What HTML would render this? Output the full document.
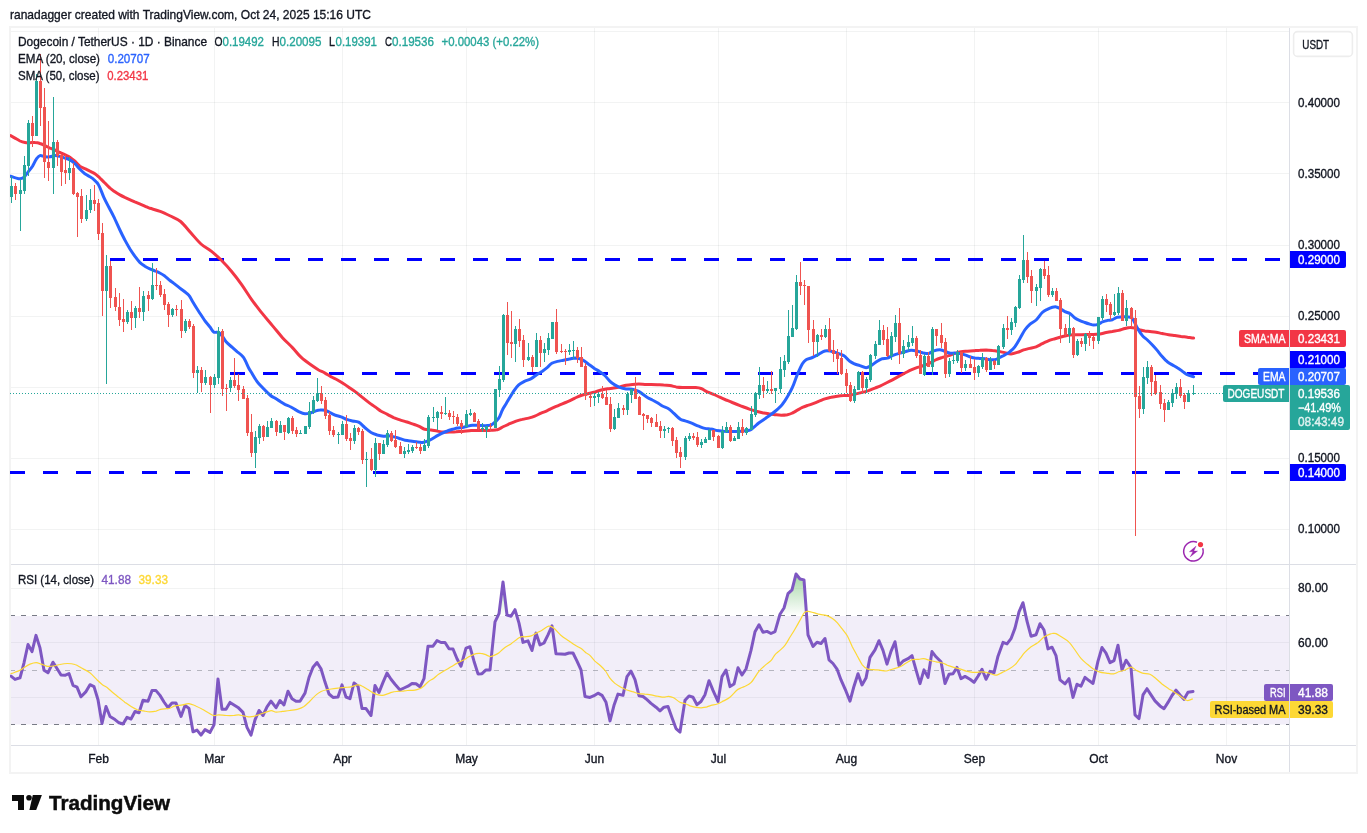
<!DOCTYPE html>
<html lang="en">
<head>
<meta charset="utf-8">
<title>DOGEUSDT chart</title>
<style>
html,body{margin:0;padding:0;background:#fff;}
body{width:1367px;height:833px;overflow:hidden;position:relative;font-family:"Liberation Sans", "DejaVu Sans", sans-serif;}
svg text{white-space:pre;}
</style>
</head>
<body>
<svg width="1367" height="833" viewBox="0 0 1367 833" font-family='"Liberation Sans", "DejaVu Sans", sans-serif' style="position:absolute;left:0;top:0;display:block">
<defs>
<clipPath id="cm"><rect x="10" y="27" width="1279" height="537"/></clipPath>
<clipPath id="cr"><rect x="10" y="565" width="1279" height="180"/></clipPath>
<linearGradient id="gob" gradientUnits="userSpaceOnUse" x1="0" y1="534" x2="0" y2="616"><stop offset="0" stop-color="#4caf50" stop-opacity="1"/><stop offset="1" stop-color="#4caf50" stop-opacity="0"/></linearGradient>
<linearGradient id="gos" gradientUnits="userSpaceOnUse" x1="0" y1="724" x2="0" y2="806"><stop offset="0" stop-color="#ff5252" stop-opacity="0"/><stop offset="1" stop-color="#ff5252" stop-opacity="1"/></linearGradient>
</defs>
<rect x="0" y="0" width="1367" height="833" fill="#ffffff"/>
<g shape-rendering="crispEdges" fill="#2a2e39" fill-opacity="0.06">
<rect x="98" y="27" width="1" height="718"/>
<rect x="214" y="27" width="1" height="718"/>
<rect x="342" y="27" width="1" height="718"/>
<rect x="466" y="27" width="1" height="718"/>
<rect x="594" y="27" width="1" height="718"/>
<rect x="718" y="27" width="1" height="718"/>
<rect x="846" y="27" width="1" height="718"/>
<rect x="974" y="27" width="1" height="718"/>
<rect x="1098" y="27" width="1" height="718"/>
<rect x="1226" y="27" width="1" height="718"/>
<rect x="10" y="31" width="1279" height="1"/>
<rect x="10" y="102" width="1279" height="1"/>
<rect x="10" y="173" width="1279" height="1"/>
<rect x="10" y="245" width="1279" height="1"/>
<rect x="10" y="316" width="1279" height="1"/>
<rect x="10" y="387" width="1279" height="1"/>
<rect x="10" y="458" width="1279" height="1"/>
<rect x="10" y="529" width="1279" height="1"/>
<rect x="10" y="588" width="1279" height="1"/>
<rect x="10" y="642" width="1279" height="1"/>
<rect x="10" y="697" width="1279" height="1"/>
</g>
<rect x="10" y="616" width="1279" height="108.5" fill="#7e57c2" fill-opacity="0.1"/>
<g shape-rendering="crispEdges">
<line x1="10" y1="615.5" x2="1289" y2="615.5" stroke="#787b86" stroke-width="1" stroke-dasharray="5 6"/>
<line x1="10" y1="670.5" x2="1289" y2="670.5" stroke="#787b86" stroke-opacity="0.5" stroke-width="1" stroke-dasharray="5 6"/>
<line x1="10" y1="724.5" x2="1289" y2="724.5" stroke="#787b86" stroke-width="1" stroke-dasharray="5 6"/>
</g>
<g shape-rendering="crispEdges" fill="#dcdee5">
<rect x="1289" y="28" width="1" height="744"/>
<rect x="11" y="564" width="1345" height="1"/>
<rect x="11" y="745" width="1345" height="1"/>
</g>
<g shape-rendering="crispEdges" fill="#f3f3f3">
<rect x="9" y="26" width="1349" height="2"/>
<rect x="9" y="772" width="1349" height="2"/>
<rect x="9" y="26" width="2" height="748"/>
<rect x="1356" y="26" width="2" height="748"/>
</g>
<g clip-path="url(#cm)">
<line x1="110" y1="259.5" x2="1290" y2="259.5" stroke="#0000ff" stroke-width="3" stroke-dasharray="15 18" shape-rendering="crispEdges"/>
<line x1="230" y1="373.5" x2="1290" y2="373.5" stroke="#0000ff" stroke-width="3" stroke-dasharray="15 18" shape-rendering="crispEdges"/>
<line x1="10" y1="472.5" x2="1290" y2="472.5" stroke="#0000ff" stroke-width="3" stroke-dasharray="15 18" shape-rendering="crispEdges"/>
<path d="M10.6,135.6 C11.3,136.0 13.4,137.2 15.0,138.1 C16.5,139.0 18.3,140.2 20.0,141.0 C21.6,141.7 23.3,142.2 25.0,142.5 C26.6,142.8 28.3,142.7 30.0,142.7 C31.6,142.7 33.3,142.3 35.0,142.5 C36.6,142.6 38.3,142.9 40.0,143.5 C41.6,144.0 43.3,144.8 44.9,145.6 C46.6,146.4 48.3,147.3 49.9,148.1 C51.6,148.8 53.3,149.2 54.9,150.0 C56.6,150.7 58.3,151.7 59.9,152.4 C61.6,153.2 63.3,153.9 64.9,154.7 C66.6,155.5 68.2,156.1 69.9,157.2 C71.6,158.3 73.2,159.7 74.9,161.2 C76.6,162.7 78.2,164.9 79.9,166.2 C81.6,167.4 83.2,167.8 84.9,168.7 C86.6,169.5 88.2,170.3 89.9,171.2 C91.6,172.0 93.2,172.5 94.9,173.7 C96.5,174.8 98.2,176.5 99.9,178.0 C101.5,179.6 103.2,181.4 104.9,183.0 C106.5,184.7 108.2,186.6 109.9,188.0 C111.5,189.5 113.2,190.6 114.9,191.8 C116.5,192.9 118.2,194.0 119.9,194.9 C121.5,195.8 122.3,196.2 124.8,197.4 C127.3,198.5 131.5,200.3 134.8,201.8 C138.2,203.2 142.3,205.0 144.8,206.1 C147.3,207.2 147.4,207.4 150.0,208.3 C152.6,209.1 156.8,210.0 160.2,211.3 C163.6,212.6 167.0,214.3 170.4,216.0 C173.8,217.7 177.2,218.7 180.6,221.5 C184.0,224.3 187.4,229.0 190.8,232.8 C194.2,236.5 197.6,240.9 201.0,244.0 C204.4,247.0 207.8,248.4 211.2,251.1 C214.6,253.8 218.0,256.9 221.4,260.3 C224.8,263.7 228.2,267.4 231.6,271.5 C235.0,275.6 238.4,280.0 241.8,284.8 C245.2,289.6 248.6,295.3 252.0,300.1 C255.4,304.9 258.8,309.1 262.2,313.4 C265.6,317.6 269.0,321.5 272.4,325.6 C275.9,329.7 279.3,334.1 282.7,337.9 C286.1,341.6 289.8,344.8 292.9,348.1 C295.9,351.3 297.9,354.3 301.0,357.2 C304.2,360.2 308.9,363.5 311.9,365.6 C314.8,367.7 316.5,368.7 318.7,370.0 C320.9,371.2 322.9,371.9 325.0,373.1 C327.0,374.2 329.1,375.7 331.2,376.8 C333.3,378.0 335.4,378.8 337.5,380.0 C339.5,381.1 341.6,382.3 343.7,383.7 C345.8,385.0 347.9,386.6 349.9,388.1 C352.0,389.5 354.1,390.9 356.2,392.4 C358.3,394.0 360.3,395.8 362.4,397.4 C364.5,399.1 366.6,400.9 368.7,402.4 C370.7,404.0 372.8,405.3 374.9,406.8 C377.0,408.2 379.1,409.9 381.1,411.2 C383.2,412.4 385.3,413.2 387.4,414.3 C389.5,415.4 391.6,416.7 393.6,417.7 C395.7,418.6 397.8,419.2 399.9,419.9 C402.0,420.6 404.0,421.1 406.1,421.8 C408.2,422.4 410.3,423.2 412.4,423.9 C414.4,424.6 416.5,425.2 418.6,426.1 C420.7,427.0 422.8,428.6 424.8,429.3 C426.9,429.9 429.0,429.8 431.1,430.1 C433.2,430.4 435.2,430.8 437.3,431.1 C439.4,431.5 441.5,432.0 443.6,432.1 C445.7,432.3 447.7,432.2 449.8,432.1 C451.9,432.1 454.0,431.9 456.1,431.8 C458.1,431.6 459.8,431.6 462.3,431.4 C464.8,431.2 468.5,430.7 471.2,430.5 C473.9,430.4 476.4,430.6 478.6,430.6 C480.9,430.6 482.8,430.6 484.9,430.6 C487.0,430.5 489.0,430.5 491.1,430.3 C493.2,430.2 495.3,430.4 497.4,429.7 C499.4,429.1 501.5,427.5 503.6,426.5 C505.7,425.5 507.8,424.6 509.8,423.7 C511.9,422.8 514.0,422.0 516.1,421.2 C518.2,420.5 520.2,419.9 522.3,419.4 C524.4,418.8 526.5,418.6 528.6,418.1 C530.7,417.6 532.7,417.1 534.8,416.2 C536.9,415.4 539.0,414.0 541.1,413.1 C543.1,412.2 545.0,411.7 547.3,410.6 C549.6,409.6 551.3,408.5 555.0,406.9 C558.8,405.2 566.5,402.2 570.0,400.6 C573.5,399.0 574.2,398.4 576.2,397.5 C578.3,396.5 580.4,395.6 582.5,395.0 C584.6,394.3 586.6,394.0 588.7,393.5 C590.8,393.0 592.9,392.4 595.0,391.9 C597.0,391.3 599.1,390.5 601.2,390.0 C603.3,389.5 605.4,389.0 607.5,388.7 C609.5,388.4 611.6,388.4 613.7,388.1 C615.8,387.8 617.9,387.3 619.9,386.9 C622.0,386.4 624.1,385.7 626.2,385.2 C628.3,384.8 630.3,384.6 632.4,384.4 C634.5,384.2 636.6,384.1 638.7,384.1 C640.7,384.1 642.8,384.3 644.9,384.4 C647.0,384.4 649.1,384.6 651.1,384.6 C653.2,384.7 655.3,384.7 657.4,384.7 C659.5,384.8 661.6,384.8 663.6,385.0 C665.7,385.1 667.8,385.3 669.9,385.6 C672.0,385.9 674.0,386.5 676.1,386.9 C678.2,387.2 680.3,387.4 682.4,387.5 C684.4,387.6 686.5,387.5 688.6,387.5 C690.7,387.5 692.8,387.3 694.8,387.5 C696.9,387.7 699.0,387.8 701.1,388.5 C703.2,389.2 705.2,390.9 707.3,391.9 C709.4,392.8 711.5,393.5 713.6,394.4 C715.7,395.2 717.7,396.3 719.8,397.2 C721.9,398.2 724.0,399.1 726.1,400.0 C728.1,400.8 730.0,401.5 732.3,402.5 C734.6,403.4 738.1,404.8 740.0,405.6 C741.9,406.4 742.1,406.4 743.7,407.0 C745.4,407.7 747.9,408.6 750.0,409.3 C752.0,410.0 754.1,410.6 756.2,411.2 C758.3,411.7 760.4,412.2 762.5,412.7 C764.5,413.1 766.6,413.3 768.7,413.7 C770.8,414.0 772.9,414.4 774.9,414.7 C777.0,414.9 779.1,415.2 781.2,415.2 C783.3,415.2 785.5,415.0 787.4,414.7 C789.3,414.3 790.8,413.8 792.4,413.0 C794.1,412.3 795.7,411.1 797.4,410.2 C799.1,409.2 800.7,408.2 802.4,407.4 C804.1,406.7 805.7,406.1 807.4,405.5 C809.1,405.0 810.5,404.6 812.4,403.9 C814.3,403.2 816.6,402.3 818.6,401.4 C820.7,400.6 822.8,399.6 824.9,398.9 C827.0,398.2 829.0,397.6 831.1,397.2 C833.2,396.7 835.3,396.5 837.4,396.2 C839.4,395.9 841.5,395.7 843.6,395.6 C845.7,395.4 847.8,395.5 849.8,395.2 C851.9,394.9 854.0,394.4 856.1,393.9 C858.2,393.5 860.2,393.0 862.3,392.4 C864.4,391.9 866.5,391.3 868.6,390.6 C870.7,389.8 872.9,388.8 874.8,388.1 C876.7,387.3 878.1,387.0 880.0,386.1 C881.9,385.3 884.2,384.1 886.2,383.0 C888.3,382.0 890.4,381.0 892.5,379.9 C894.6,378.8 896.6,377.5 898.7,376.4 C900.8,375.3 902.9,374.1 905.0,373.0 C907.0,372.0 909.1,370.8 911.2,369.9 C913.3,369.0 915.4,368.1 917.5,367.4 C919.5,366.7 921.6,366.3 923.7,365.5 C925.8,364.8 927.9,364.0 929.9,363.0 C932.0,362.1 934.1,360.6 936.2,359.7 C938.3,358.7 940.3,358.1 942.4,357.4 C944.5,356.7 946.6,356.2 948.7,355.6 C950.7,354.9 952.8,354.1 954.9,353.4 C957.0,352.8 959.1,352.2 961.1,351.8 C963.2,351.4 965.3,351.4 967.4,351.2 C969.5,351.0 971.6,351.0 973.6,350.8 C975.7,350.6 977.8,350.3 979.9,350.2 C982.0,350.0 984.0,349.9 986.1,349.9 C988.2,350.0 990.3,350.3 992.4,350.6 C994.4,350.8 996.5,351.1 998.6,351.4 C1000.7,351.8 1002.8,352.3 1004.8,352.7 C1006.9,353.1 1009.0,354.0 1011.1,353.9 C1013.2,353.9 1015.2,353.1 1017.3,352.4 C1019.4,351.8 1021.5,350.6 1023.6,349.9 C1025.7,349.3 1027.7,349.0 1029.8,348.4 C1031.9,347.9 1034.0,347.6 1036.1,346.8 C1038.1,346.0 1040.0,344.8 1042.3,343.7 C1044.6,342.6 1047.9,341.0 1050.0,340.2 C1052.2,339.4 1053.3,339.2 1055.0,338.7 C1056.7,338.2 1058.3,337.7 1060.0,337.2 C1061.7,336.8 1063.3,336.3 1065.0,336.0 C1066.6,335.6 1068.3,335.2 1070.0,335.0 C1071.6,334.8 1073.1,334.8 1075.0,334.7 C1076.8,334.7 1079.1,334.7 1081.2,334.7 C1083.3,334.7 1085.4,334.7 1087.5,334.6 C1089.5,334.5 1091.6,334.5 1093.7,334.4 C1095.8,334.2 1097.9,334.3 1099.9,334.0 C1102.0,333.7 1104.1,332.9 1106.2,332.5 C1108.3,332.1 1110.3,331.8 1112.4,331.5 C1114.5,331.1 1116.6,330.9 1118.7,330.4 C1120.7,329.9 1123.0,329.0 1124.9,328.5 C1126.8,328.0 1128.2,327.5 1129.9,327.5 C1131.6,327.4 1133.2,327.7 1134.9,328.1 C1136.6,328.5 1138.2,329.5 1139.9,330.0 C1141.6,330.5 1143.2,330.7 1144.9,331.0 C1146.5,331.2 1148.0,331.3 1149.9,331.5 C1151.7,331.7 1154.0,331.9 1156.1,332.2 C1158.2,332.6 1160.3,333.1 1162.4,333.5 C1164.4,333.9 1166.5,334.4 1168.6,334.7 C1170.7,335.1 1172.8,335.3 1174.8,335.6 C1176.9,335.9 1179.0,336.2 1181.1,336.5 C1183.2,336.7 1185.2,337.0 1187.3,337.2 C1189.4,337.5 1192.5,338.0 1193.6,338.1" fill="none" stroke="#f23645" stroke-width="3" stroke-linejoin="round" stroke-linecap="round"/>
<path d="M10.6,176.2 C12.0,176.6 16.5,178.5 18.7,178.7 C20.9,178.9 22.1,178.7 23.7,177.4 C25.4,176.2 27.3,173.0 28.7,171.2 C30.2,169.3 31.2,168.2 32.5,166.2 C33.7,164.2 35.0,161.1 36.2,159.3 C37.5,157.5 38.5,156.0 40.0,155.6 C41.4,155.2 43.3,156.6 44.9,156.8 C46.6,157.0 48.3,157.0 49.9,156.8 C51.6,156.6 53.3,155.6 54.9,155.6 C56.6,155.5 58.3,156.0 59.9,156.4 C61.6,156.9 63.3,157.5 64.9,158.1 C66.6,158.6 68.2,159.0 69.9,159.9 C71.6,160.9 73.2,162.1 74.9,163.7 C76.6,165.2 78.2,167.6 79.9,169.3 C81.6,171.0 83.2,172.4 84.9,173.7 C86.6,174.9 88.4,175.9 89.9,176.8 C91.3,177.7 92.2,177.9 93.6,179.3 C95.1,180.6 97.0,182.0 98.6,184.9 C100.3,187.8 102.0,193.2 103.6,196.8 C105.3,200.5 106.9,203.5 108.6,206.8 C110.3,210.1 111.7,212.5 113.6,216.4 C115.5,220.2 118.0,226.0 119.9,230.0 C121.7,233.9 123.2,236.8 124.8,239.9 C126.5,243.1 128.2,246.0 129.8,248.7 C131.5,251.4 133.2,253.9 134.8,256.2 C136.5,258.5 138.2,260.7 139.8,262.4 C141.5,264.1 143.2,265.1 144.8,266.2 C146.5,267.2 148.1,268.1 149.8,268.9 C151.5,269.7 153.1,270.1 154.8,270.8 C156.5,271.5 158.1,272.1 159.8,273.0 C161.5,273.9 163.1,274.9 164.8,276.1 C166.5,277.4 168.6,279.4 170.0,280.5 C171.5,281.7 172.0,281.8 173.6,283.1 C175.3,284.4 177.4,286.1 179.9,288.1 C182.4,290.1 186.5,292.8 188.6,295.0 C190.7,297.2 190.7,298.5 192.4,301.2 C194.0,303.9 196.5,308.0 198.6,311.2 C200.7,314.4 203.0,318.0 204.8,320.6 C206.7,323.2 208.4,324.9 209.8,326.8 C211.3,328.7 212.1,331.1 213.6,332.0 C215.0,333.0 217.1,331.7 218.6,332.4 C220.0,333.1 221.1,334.6 222.3,336.2 C223.6,337.7 224.4,339.9 226.1,341.8 C227.7,343.7 230.4,345.7 232.3,347.4 C234.2,349.1 235.4,350.1 237.3,351.8 C239.2,353.4 241.7,354.7 243.5,357.4 C245.4,360.1 247.4,365.6 248.7,368.0 C249.9,370.4 249.8,369.9 251.0,371.8 C252.3,373.8 254.5,377.8 256.0,380.0 C257.5,382.1 257.7,382.5 260.0,385.0 C262.4,387.5 267.5,392.8 270.0,395.0 C272.4,397.2 273.3,397.1 275.0,398.1 C276.6,399.2 278.3,400.2 279.9,401.2 C281.6,402.3 283.3,403.5 284.9,404.4 C286.6,405.2 288.3,405.7 289.9,406.5 C291.6,407.3 293.3,408.4 294.9,409.4 C296.6,410.3 298.3,411.5 299.9,412.2 C301.6,413.0 303.2,413.6 304.9,413.7 C306.6,413.9 308.2,413.5 309.9,413.1 C311.6,412.7 313.2,411.7 314.9,411.2 C316.6,410.7 318.2,410.1 319.9,410.0 C321.6,409.8 323.2,409.8 324.9,410.2 C326.6,410.6 328.2,411.7 329.9,412.5 C331.5,413.3 333.0,414.2 334.9,415.0 C336.7,415.7 339.0,416.1 341.1,416.8 C343.2,417.6 345.5,419.0 347.4,419.7 C349.2,420.4 350.5,420.6 352.4,421.0 C354.2,421.4 356.5,421.1 358.6,422.2 C360.7,423.3 362.8,425.8 364.8,427.5 C366.9,429.2 369.0,431.2 371.1,432.5 C373.2,433.7 375.2,434.3 377.3,435.0 C379.4,435.6 381.5,436.0 383.6,436.2 C385.6,436.4 387.7,435.7 389.8,435.9 C391.9,436.2 394.2,436.9 396.0,437.4 C397.9,437.9 399.5,438.5 401.0,438.9 C402.5,439.4 403.5,439.9 405.0,440.2 C406.5,440.5 408.1,440.7 410.0,440.9 C411.8,441.2 414.1,441.6 416.2,441.8 C418.3,442.1 420.6,442.6 422.5,442.4 C424.3,442.3 425.8,441.8 427.4,441.2 C429.1,440.6 430.8,439.6 432.4,438.7 C434.1,437.8 435.8,436.5 437.4,435.6 C439.1,434.6 440.8,433.9 442.4,433.1 C444.1,432.3 445.8,431.6 447.4,431.0 C449.1,430.3 450.8,429.8 452.4,429.3 C454.1,428.9 455.7,428.4 457.4,428.1 C459.1,427.8 460.7,427.8 462.4,427.5 C464.1,427.2 465.7,426.6 467.4,426.2 C469.1,425.8 470.7,425.4 472.4,425.2 C474.1,425.1 475.7,425.3 477.4,425.3 C479.0,425.4 480.7,425.6 482.4,425.6 C484.0,425.6 485.7,425.8 487.4,425.6 C489.0,425.4 490.5,425.5 492.4,424.3 C494.2,423.1 496.9,420.8 498.6,418.4 C500.3,416.0 501.1,412.4 502.4,410.0 C503.6,407.5 504.2,406.9 506.1,403.7 C508.0,400.6 511.6,394.3 513.7,391.1 C515.8,388.0 516.8,386.6 518.7,384.9 C520.6,383.2 522.9,382.2 524.9,381.1 C527.0,380.1 529.1,379.8 531.2,378.6 C533.3,377.5 535.5,375.5 537.4,374.3 C539.3,373.0 540.7,372.3 542.4,371.2 C544.1,370.0 545.8,368.7 547.4,367.4 C549.0,366.1 550.1,364.3 551.8,363.3 C553.4,362.3 555.4,361.9 557.4,361.4 C559.4,360.9 561.6,360.6 563.6,360.2 C565.7,359.8 568.0,359.3 569.9,358.9 C571.7,358.6 573.2,358.1 574.9,358.0 C576.5,358.0 578.4,358.3 579.9,358.7 C581.3,359.1 582.2,359.6 583.6,360.5 C585.1,361.5 586.7,362.9 588.6,364.3 C590.5,365.6 593.0,367.4 594.8,368.7 C596.7,369.9 598.2,370.6 599.8,371.8 C601.5,372.9 603.2,374.0 604.8,375.5 C606.5,377.1 608.2,379.6 609.8,381.1 C611.5,382.7 613.2,383.8 614.8,384.9 C616.5,385.9 617.9,386.7 619.8,387.4 C621.7,388.1 624.0,388.6 626.1,388.9 C628.1,389.2 630.2,388.8 632.3,389.3 C634.4,389.7 636.1,390.1 638.7,391.4 C641.2,392.8 645.1,396.1 647.4,397.5 C649.7,398.9 650.7,399.1 652.4,400.0 C654.1,400.8 655.7,401.7 657.4,402.7 C659.1,403.7 660.5,405.0 662.4,406.0 C664.3,407.0 666.8,407.5 668.6,408.7 C670.5,409.9 671.7,411.4 673.6,413.1 C675.5,414.8 677.8,417.6 679.9,418.9 C681.9,420.3 684.0,420.4 686.1,421.2 C688.2,421.9 690.3,422.6 692.3,423.4 C694.4,424.3 696.5,425.4 698.6,426.2 C700.7,427.0 702.8,428.0 704.8,428.4 C706.9,428.9 709.0,428.7 711.1,429.1 C713.2,429.4 715.2,430.2 717.3,430.6 C719.4,430.9 721.5,431.0 723.6,431.2 C725.6,431.3 727.7,431.4 729.8,431.4 C731.9,431.5 733.7,431.6 736.0,431.6 C738.4,431.5 741.4,431.1 743.7,430.9 C746.0,430.7 748.3,430.7 750.0,430.1 C751.6,429.6 752.3,428.6 753.7,427.4 C755.2,426.2 756.8,424.5 758.7,423.0 C760.6,421.6 762.9,420.1 765.0,418.7 C767.0,417.2 769.1,415.8 771.2,414.3 C773.3,412.7 775.6,411.0 777.4,409.3 C779.3,407.6 780.8,406.4 782.4,404.3 C784.1,402.2 785.8,399.6 787.4,396.8 C789.1,394.0 790.8,391.2 792.4,387.4 C794.1,383.7 795.7,378.3 797.4,374.3 C799.1,370.4 800.9,366.2 802.4,363.7 C803.9,361.3 804.5,360.8 806.1,359.7 C807.8,358.7 810.3,358.4 812.4,357.5 C814.5,356.6 816.6,355.4 818.6,354.4 C820.7,353.3 822.8,351.5 824.9,351.0 C827.0,350.5 829.0,350.9 831.1,351.2 C833.2,351.6 835.3,352.4 837.4,353.1 C839.4,353.8 841.5,354.3 843.6,355.6 C845.7,357.0 848.0,359.8 849.8,361.2 C851.7,362.6 853.2,363.2 854.8,364.0 C856.5,364.7 858.0,365.0 859.8,365.6 C861.7,366.2 864.2,367.7 866.1,367.7 C867.9,367.7 869.2,366.7 871.1,365.6 C872.9,364.5 875.4,362.4 877.3,361.2 C879.2,360.1 880.6,359.3 882.3,358.7 C884.0,358.2 885.6,358.6 887.3,358.1 C889.0,357.6 890.2,356.5 892.3,355.6 C894.4,354.8 897.9,353.7 900.0,353.1 C902.1,352.4 903.1,352.3 905.0,351.8 C906.8,351.3 909.1,350.3 911.2,350.2 C913.3,350.1 915.4,350.7 917.5,351.2 C919.5,351.7 921.8,352.7 923.7,353.1 C925.6,353.4 927.0,353.8 928.7,353.4 C930.4,353.1 931.8,351.6 933.7,350.9 C935.6,350.3 938.1,349.6 939.9,349.7 C941.8,349.8 943.3,350.9 944.9,351.4 C946.6,352.0 948.2,352.8 949.9,353.1 C951.6,353.3 953.2,353.0 954.9,353.1 C956.6,353.1 958.2,353.1 959.9,353.4 C961.6,353.7 963.2,354.4 964.9,354.9 C966.6,355.5 968.2,356.3 969.9,356.8 C971.6,357.3 973.2,357.8 974.9,358.1 C976.5,358.3 978.2,358.3 979.9,358.4 C981.5,358.5 983.2,358.5 984.9,358.7 C986.5,358.9 988.2,359.5 989.9,359.7 C991.5,359.8 993.2,360.0 994.9,359.7 C996.5,359.3 998.2,358.2 999.9,357.4 C1001.5,356.6 1003.2,355.9 1004.8,354.9 C1006.5,354.0 1008.2,353.2 1009.8,351.8 C1011.5,350.5 1013.2,349.0 1014.8,346.8 C1016.5,344.6 1018.2,341.5 1019.8,338.7 C1021.5,335.9 1023.2,332.4 1024.8,330.0 C1026.5,327.6 1027.9,326.0 1029.8,324.3 C1031.7,322.7 1034.0,322.0 1036.1,320.0 C1038.1,318.0 1040.4,314.3 1042.3,312.5 C1044.2,310.7 1045.6,310.2 1047.3,309.4 C1049.0,308.5 1050.9,307.7 1052.4,307.3 C1053.9,306.9 1054.9,306.7 1056.2,306.9 C1057.4,307.1 1058.5,307.7 1059.9,308.5 C1061.4,309.3 1063.2,310.8 1064.9,311.6 C1066.6,312.5 1068.2,312.5 1069.9,313.5 C1071.6,314.6 1073.2,316.7 1074.9,317.9 C1076.6,319.1 1078.2,319.9 1079.9,320.6 C1081.6,321.4 1083.2,321.9 1084.9,322.5 C1086.5,323.1 1088.4,323.7 1089.9,324.1 C1091.3,324.6 1092.2,325.1 1093.6,325.1 C1095.1,325.1 1097.2,324.7 1098.6,324.1 C1100.1,323.6 1100.9,322.5 1102.4,321.9 C1103.8,321.3 1105.7,320.7 1107.4,320.4 C1109.0,320.0 1110.7,320.3 1112.3,319.8 C1114.0,319.2 1115.7,317.7 1117.3,317.3 C1119.0,316.8 1120.7,317.0 1122.3,316.9 C1124.0,316.8 1125.7,316.6 1127.3,316.9 C1129.0,317.2 1130.6,316.6 1132.3,318.5 C1134.0,320.4 1135.7,325.3 1137.4,328.1 C1139.1,331.0 1140.7,333.6 1142.4,335.6 C1144.0,337.6 1145.7,338.4 1147.4,340.0 C1149.0,341.5 1150.7,343.2 1152.4,345.0 C1154.0,346.7 1155.7,348.6 1157.4,350.6 C1159.0,352.6 1160.7,355.0 1162.4,356.8 C1164.0,358.7 1165.7,360.5 1167.4,361.8 C1169.0,363.2 1170.7,364.0 1172.3,364.9 C1174.0,365.9 1175.7,366.6 1177.3,367.7 C1179.0,368.7 1180.7,370.0 1182.3,371.2 C1184.0,372.3 1185.5,373.7 1187.3,374.7 C1189.2,375.6 1192.5,376.4 1193.6,376.8" fill="none" stroke="#2962ff" stroke-width="3" stroke-linejoin="round" stroke-linecap="round"/>
<path d="M11,176h1v27h-1z M10,186h3v11h-3z M20,179h1v52h-1z M19,190h3v4h-3z M24,156h1v38h-1z M23,165h3v26h-3z M28,120h1v56h-1z M27,123h3v43h-3z M36,74h1v62h-1z M35,81h3v55h-3z M53,97h1v97h-1z M52,142h3v26h-3z M69,157h1v23h-1z M68,168h3v5h-3z M86,195h1v26h-1z M85,210h3v9h-3z M90,189h1v24h-1z M89,200h3v10h-3z M106,255h1v129h-1z M105,266h3v25h-3z M127,310h1v14h-1z M126,312h3v10h-3z M135,306h1v22h-1z M134,308h3v10h-3z M143,291h1v30h-1z M142,296h3v16h-3z M152,263h1v37h-1z M151,285h3v14h-3z M172,308h1v9h-1z M171,309h3v6h-3z M185,319h1v14h-1z M184,321h3v10h-3z M197,366h1v27h-1z M196,370h3v3h-3z M205,370h1v15h-1z M204,377h3v6h-3z M214,374h1v14h-1z M213,377h3v8h-3z M218,327h1v57h-1z M217,331h3v47h-3z M230,377h1v15h-1z M229,380h3v8h-3z M255,431h1v37h-1z M254,437h3v16h-3z M259,424h1v20h-1z M258,426h3v12h-3z M267,421h1v16h-1z M266,427h3v10h-3z M271,418h1v10h-1z M270,421h3v7h-3z M280,421h1v12h-1z M279,425h3v8h-3z M288,417h1v17h-1z M287,418h3v15h-3z M300,430h1v4h-1z M299,433h3v1h-3z M305,426h1v8h-1z M304,426h3v8h-3z M309,402h1v27h-1z M308,411h3v16h-3z M313,396h1v18h-1z M312,400h3v12h-3z M317,378h1v24h-1z M316,393h3v8h-3z M338,432h1v12h-1z M337,434h3v1h-3z M342,421h1v14h-1z M341,424h3v11h-3z M354,425h1v19h-1z M353,428h3v13h-3z M366,452h1v35h-1z M365,459h3v1h-3z M375,438h1v39h-1z M374,443h3v27h-3z M383,440h1v14h-1z M382,444h3v10h-3z M387,430h1v17h-1z M386,433h3v12h-3z M404,447h1v11h-1z M403,451h3v3h-3z M408,444h1v10h-1z M407,450h3v2h-3z M412,445h1v8h-1z M411,447h3v4h-3z M424,439h1v12h-1z M423,445h3v6h-3z M428,415h1v33h-1z M427,417h3v29h-3z M433,407h1v15h-1z M432,417h3v1h-3z M437,411h1v19h-1z M436,412h3v6h-3z M445,397h1v18h-1z M444,413h3v1h-3z M466,410h1v17h-1z M465,414h3v13h-3z M470,409h1v7h-1z M469,413h3v2h-3z M482,423h1v9h-1z M481,428h3v1h-3z M486,426h1v12h-1z M485,426h3v4h-3z M495,389h1v39h-1z M494,389h3v39h-3z M499,366h1v31h-1z M498,379h3v11h-3z M503,314h1v68h-1z M502,315h3v65h-3z M515,326h1v36h-1z M514,329h3v15h-3z M528,343h1v18h-1z M527,357h3v3h-3z M536,333h1v34h-1z M535,340h3v27h-3z M544,343h1v19h-1z M543,349h3v4h-3z M548,333h1v22h-1z M547,338h3v12h-3z M552,322h1v17h-1z M551,322h3v17h-3z M569,344h1v11h-1z M568,350h3v2h-3z M573,341h1v18h-1z M572,350h3v1h-3z M594,393h1v13h-1z M593,396h3v2h-3z M598,392h1v11h-1z M597,394h3v3h-3z M614,409h1v21h-1z M613,417h3v12h-3z M618,403h1v15h-1z M617,408h3v10h-3z M627,392h1v23h-1z M626,394h3v16h-3z M631,389h1v14h-1z M630,389h3v6h-3z M664,426h1v12h-1z M663,429h3v2h-3z M668,427h1v6h-1z M667,428h3v1h-3z M685,436h1v24h-1z M684,438h3v19h-3z M689,433h1v8h-1z M688,436h3v3h-3z M701,439h1v9h-1z M700,442h3v3h-3z M705,437h1v6h-1z M704,439h3v4h-3z M709,429h1v11h-1z M708,430h3v10h-3z M722,426h1v23h-1z M721,431h3v17h-3z M726,422h1v11h-1z M725,427h3v5h-3z M734,436h1v5h-1z M733,438h3v3h-3z M738,422h1v17h-1z M737,427h3v12h-3z M746,427h1v8h-1z M745,428h3v5h-3z M751,406h1v24h-1z M750,414h3v16h-3z M755,392h1v25h-1z M754,393h3v22h-3z M759,367h1v32h-1z M758,385h3v10h-3z M767,381h1v12h-1z M766,389h3v2h-3z M775,388h1v15h-1z M774,388h3v3h-3z M780,357h1v36h-1z M779,369h3v20h-3z M784,355h1v22h-1z M783,361h3v9h-3z M788,310h1v54h-1z M787,336h3v26h-3z M792,305h1v32h-1z M791,328h3v9h-3z M796,275h1v55h-1z M795,282h3v47h-3z M817,334h1v23h-1z M816,335h3v7h-3z M825,325h1v13h-1z M824,329h3v8h-3z M854,386h1v17h-1z M853,389h3v12h-3z M858,371h1v19h-1z M857,372h3v18h-3z M866,377h1v16h-1z M865,379h3v9h-3z M870,354h1v28h-1z M869,355h3v25h-3z M875,341h1v18h-1z M874,344h3v12h-3z M879,320h1v25h-1z M878,330h3v15h-3z M891,332h1v28h-1z M890,336h3v20h-3z M895,315h1v27h-1z M894,323h3v14h-3z M903,340h1v18h-1z M902,346h3v8h-3z M908,335h1v16h-1z M907,342h3v5h-3z M912,326h1v20h-1z M911,338h3v5h-3z M924,354h1v22h-1z M923,356h3v19h-3z M932,327h1v48h-1z M931,329h3v38h-3z M949,358h1v19h-1z M948,361h3v13h-3z M953,353h1v11h-1z M952,360h3v1h-3z M957,350h1v13h-1z M956,352h3v9h-3z M965,360h1v11h-1z M964,364h3v4h-3z M978,365h1v12h-1z M977,366h3v7h-3z M982,353h1v16h-1z M981,358h3v9h-3z M990,357h1v13h-1z M989,361h3v9h-3z M998,345h1v20h-1z M997,346h3v19h-3z M1003,324h1v25h-1z M1002,328h3v19h-3z M1011,318h1v17h-1z M1010,322h3v8h-3z M1015,306h1v21h-1z M1014,307h3v16h-3z M1019,275h1v34h-1z M1018,279h3v29h-3z M1023,235h1v48h-1z M1022,260h3v20h-3z M1036,284h1v22h-1z M1035,287h3v4h-3z M1040,268h1v33h-1z M1039,269h3v19h-3z M1052,288h1v9h-1z M1051,291h3v4h-3z M1069,315h1v28h-1z M1068,328h3v7h-3z M1077,339h1v17h-1z M1076,341h3v14h-3z M1085,333h1v18h-1z M1084,334h3v10h-3z M1098,317h1v27h-1z M1097,317h3v24h-3z M1102,296h1v24h-1z M1101,299h3v19h-3z M1114,294h1v22h-1z M1113,312h3v3h-3z M1118,287h1v28h-1z M1117,293h3v20h-3z M1126,300h1v26h-1z M1125,308h3v13h-3z M1143,367h1v47h-1z M1142,377h3v32h-3z M1147,361h1v23h-1z M1146,367h3v11h-3z M1168,400h1v10h-1z M1167,402h3v8h-3z M1172,389h1v18h-1z M1171,393h3v10h-3z M1176,383h1v16h-1z M1175,387h3v7h-3z M1188,390h1v12h-1z M1187,393h3v9h-3z M1193,385h1v10h-1z M1192,393h3v1h-3z" fill="#26a69a" shape-rendering="crispEdges"/>
<path d="M15,183h1v17h-1z M14,186h3v8h-3z M32,116h1v31h-1z M31,123h3v13h-3z M40,54h1v72h-1z M39,81h3v27h-3z M44,88h1v90h-1z M43,107h3v55h-3z M48,121h1v60h-1z M47,162h3v6h-3z M57,140h1v26h-1z M56,142h3v14h-3z M61,154h1v32h-1z M60,155h3v17h-3z M65,155h1v29h-1z M64,170h3v3h-3z M73,163h1v32h-1z M72,168h3v26h-3z M77,192h1v45h-1z M76,193h3v4h-3z M81,189h1v34h-1z M80,196h3v23h-3z M94,185h1v26h-1z M93,200h3v4h-3z M98,199h1v41h-1z M97,203h3v31h-3z M102,223h1v93h-1z M101,233h3v58h-3z M110,261h1v47h-1z M109,266h3v32h-3z M115,288h1v23h-1z M114,297h3v10h-3z M119,293h1v33h-1z M118,307h3v13h-3z M123,299h1v33h-1z M122,319h3v3h-3z M131,301h1v29h-1z M130,312h3v6h-3z M139,287h1v31h-1z M138,308h3v4h-3z M148,291h1v20h-1z M147,295h3v4h-3z M156,268h1v22h-1z M155,285h3v1h-3z M160,281h1v16h-1z M159,285h3v10h-3z M164,289h1v21h-1z M163,294h3v11h-3z M168,302h1v25h-1z M167,304h3v11h-3z M176,305h1v11h-1z M175,309h3v1h-3z M181,300h1v38h-1z M180,309h3v22h-3z M189,319h1v10h-1z M188,321h3v6h-3z M193,324h1v54h-1z M192,326h3v47h-3z M201,367h1v25h-1z M200,370h3v13h-3z M210,376h1v37h-1z M209,377h3v8h-3z M222,329h1v67h-1z M221,331h3v58h-3z M226,384h1v27h-1z M225,388h3v1h-3z M234,358h1v30h-1z M233,380h3v6h-3z M238,374h1v27h-1z M237,385h3v5h-3z M243,386h1v13h-1z M242,389h3v10h-3z M247,395h1v41h-1z M246,398h3v35h-3z M251,414h1v43h-1z M250,432h3v21h-3z M263,425h1v16h-1z M262,426h3v11h-3z M276,420h1v16h-1z M275,421h3v11h-3z M284,425h1v15h-1z M283,425h3v7h-3z M292,416h1v18h-1z M291,418h3v13h-3z M296,427h1v10h-1z M295,430h3v4h-3z M321,386h1v18h-1z M320,393h3v8h-3z M325,397h1v22h-1z M324,400h3v16h-3z M329,412h1v23h-1z M328,415h3v16h-3z M333,426h1v11h-1z M332,430h3v5h-3z M346,415h1v26h-1z M345,424h3v15h-3z M350,433h1v17h-1z M349,438h3v3h-3z M358,427h1v8h-1z M357,428h3v4h-3z M362,429h1v35h-1z M361,431h3v29h-3z M371,448h1v23h-1z M370,459h3v11h-3z M379,443h1v17h-1z M378,443h3v11h-3z M391,431h1v11h-1z M390,433h3v8h-3z M395,430h1v18h-1z M394,440h3v7h-3z M400,442h1v12h-1z M399,446h3v8h-3z M416,442h1v7h-1z M415,447h3v1h-3z M420,444h1v10h-1z M419,447h3v4h-3z M441,406h1v13h-1z M440,412h3v2h-3z M449,410h1v10h-1z M448,413h3v4h-3z M453,411h1v13h-1z M452,416h3v1h-3z M457,414h1v12h-1z M456,417h3v7h-3z M461,420h1v14h-1z M460,423h3v4h-3z M474,412h1v10h-1z M473,413h3v9h-3z M478,419h1v11h-1z M477,421h3v8h-3z M490,423h1v8h-1z M489,426h3v1h-3z M507,302h1v53h-1z M506,315h3v28h-3z M511,311h1v47h-1z M510,342h3v2h-3z M519,319h1v28h-1z M518,329h3v12h-3z M523,335h1v32h-1z M522,340h3v20h-3z M532,355h1v17h-1z M531,357h3v10h-3z M540,336h1v31h-1z M539,340h3v13h-3z M556,309h1v45h-1z M555,322h3v30h-3z M561,344h1v9h-1z M560,351h3v1h-3z M565,349h1v16h-1z M564,351h3v1h-3z M577,347h1v16h-1z M576,350h3v8h-3z M581,347h1v20h-1z M580,357h3v10h-3z M585,363h1v37h-1z M584,366h3v30h-3z M590,393h1v14h-1z M589,396h3v2h-3z M602,386h1v13h-1z M601,394h3v4h-3z M606,390h1v15h-1z M605,397h3v8h-3z M610,397h1v35h-1z M609,404h3v25h-3z M623,405h1v10h-1z M622,408h3v2h-3z M635,377h1v22h-1z M634,389h3v10h-3z M639,396h1v19h-1z M638,397h3v18h-3z M643,413h1v17h-1z M642,414h3v2h-3z M647,415h1v8h-1z M646,415h3v4h-3z M651,417h1v10h-1z M650,418h3v5h-3z M656,414h1v13h-1z M655,422h3v5h-3z M660,421h1v17h-1z M659,426h3v5h-3z M672,427h1v19h-1z M671,428h3v13h-3z M676,437h1v21h-1z M675,440h3v13h-3z M680,447h1v21h-1z M679,452h3v5h-3z M693,433h1v7h-1z M692,436h3v2h-3z M697,432h1v15h-1z M696,437h3v8h-3z M713,430h1v11h-1z M712,430h3v7h-3z M718,435h1v13h-1z M717,436h3v12h-3z M730,425h1v17h-1z M729,427h3v14h-3z M742,419h1v17h-1z M741,427h3v6h-3z M763,377h1v21h-1z M762,385h3v6h-3z M771,371h1v23h-1z M770,389h3v2h-3z M800,262h1v33h-1z M799,282h3v4h-3z M804,280h1v25h-1z M803,285h3v1h-3z M808,286h1v57h-1z M807,286h3v44h-3z M813,320h1v36h-1z M812,329h3v13h-3z M821,329h1v11h-1z M820,335h3v2h-3z M829,318h1v34h-1z M828,329h3v22h-3z M833,340h1v22h-1z M832,350h3v4h-3z M837,349h1v25h-1z M836,353h3v6h-3z M841,350h1v25h-1z M840,358h3v16h-3z M846,369h1v24h-1z M845,373h3v13h-3z M850,382h1v20h-1z M849,385h3v16h-3z M862,371h1v22h-1z M861,372h3v16h-3z M883,325h1v20h-1z M882,330h3v10h-3z M887,327h1v30h-1z M886,339h3v17h-3z M899,308h1v56h-1z M898,323h3v31h-3z M916,336h1v22h-1z M915,338h3v18h-3z M920,350h1v24h-1z M919,355h3v19h-3z M928,352h1v15h-1z M927,356h3v11h-3z M936,329h1v17h-1z M935,329h3v7h-3z M941,323h1v25h-1z M940,335h3v8h-3z M945,338h1v40h-1z M944,342h3v32h-3z M961,352h1v21h-1z M960,352h3v16h-3z M970,356h1v12h-1z M969,364h3v4h-3z M974,359h1v21h-1z M973,367h3v6h-3z M986,357h1v15h-1z M985,358h3v12h-3z M994,360h1v9h-1z M993,361h3v4h-3z M1007,316h1v23h-1z M1006,328h3v2h-3z M1027,252h1v31h-1z M1026,260h3v17h-3z M1031,270h1v33h-1z M1030,276h3v15h-3z M1044,261h1v18h-1z M1043,269h3v7h-3z M1048,266h1v31h-1z M1047,275h3v20h-3z M1056,288h1v13h-1z M1055,291h3v10h-3z M1060,298h1v45h-1z M1059,300h3v29h-3z M1065,324h1v12h-1z M1064,328h3v7h-3z M1073,327h1v31h-1z M1072,328h3v27h-3z M1081,338h1v9h-1z M1080,341h3v3h-3z M1089,331h1v15h-1z M1088,334h3v4h-3z M1093,336h1v13h-1z M1092,337h3v4h-3z M1106,294h1v18h-1z M1105,299h3v6h-3z M1110,302h1v18h-1z M1109,304h3v11h-3z M1122,290h1v31h-1z M1121,293h3v28h-3z M1131,307h1v20h-1z M1130,308h3v11h-3z M1135,310h1v226h-1z M1134,318h3v79h-3z M1139,386h1v32h-1z M1138,396h3v13h-3z M1151,365h1v31h-1z M1150,367h3v15h-3z M1155,375h1v20h-1z M1154,381h3v13h-3z M1160,385h1v24h-1z M1159,392h3v12h-3z M1164,399h1v23h-1z M1163,403h3v7h-3z M1180,379h1v19h-1z M1179,387h3v9h-3z M1184,393h1v16h-1z M1183,395h3v7h-3z" fill="#ef5350" shape-rendering="crispEdges"/>
<line x1="10" y1="393.5" x2="1290" y2="393.5" stroke="#26a69a" stroke-width="1" stroke-dasharray="1 2" shape-rendering="crispEdges"/>
</g>
<g fill="none" stroke="#9c27b0" stroke-width="1.5">
<path d="M1197.0,542.2 A9.75,9.75 0 1 0 1202.7,548.3"/>
</g>
<path d="M1196.1,546.1 L1189.3,551.8 L1192.9,551.8 L1190.1,556.9 L1197.6,551.0 L1193.9,551.0 Z" fill="#9c27b0" stroke="#9c27b0" stroke-width="0.3" stroke-linejoin="round"/>
<circle cx="1200.5" cy="544.6" r="2.6" fill="#f23645"/>
<g clip-path="url(#cr)">
<path d="M498.1,615.5 L499.0,613.7 L503.0,581.9 L507.0,615.0 L508.8,615.5Z" fill="url(#gob)"/>
<path d="M511.4,615.5 L515.0,609.7 L516.7,615.5Z" fill="url(#gob)"/>
<path d="M779.6,615.5 L780.0,614.2 L784.0,608.0 L788.0,593.6 L792.0,589.8 L796.0,574.0 L800.0,579.0 L804.0,579.9 L806.6,615.5Z" fill="url(#gob)"/>
<path d="M1018.1,615.5 L1019.0,611.9 L1023.0,602.7 L1025.8,615.5Z" fill="url(#gob)"/>
<path d="M191.8,724.5 L193.0,731.8 L197.0,730.1 L201.0,735.1 L205.0,729.6 L210.0,732.4 L214.0,724.9 L214.0,724.5Z" fill="url(#gos)"/>
<path d="M246.2,724.5 L247.0,727.4 L251.0,735.1 L253.8,724.5Z" fill="url(#gos)"/>
<path d="M674.5,724.5 L676.0,728.6 L680.0,732.1 L681.2,724.5Z" fill="url(#gos)"/>
<path d="M11.0,676.2 L15.0,679.4 L20.0,677.8 L24.0,662.8 L28.0,644.5 L32.0,651.6 L36.0,635.4 L40.0,647.9 L44.0,670.3 L48.0,672.8 L53.0,662.2 L57.0,668.5 L61.0,675.0 L65.0,675.3 L69.0,673.5 L73.0,685.3 L77.0,687.2 L81.0,696.8 L86.0,691.6 L90.0,684.7 L94.0,686.6 L98.0,699.7 L102.0,723.4 L106.0,706.5 L110.0,716.5 L115.0,719.6 L119.0,722.8 L123.0,724.0 L127.0,717.4 L131.0,719.0 L135.0,711.5 L139.0,712.8 L143.0,700.3 L148.0,701.2 L152.0,690.6 L156.0,690.6 L160.0,695.4 L164.0,702.0 L168.0,707.6 L172.0,703.0 L176.0,703.0 L181.0,716.4 L185.0,705.5 L189.0,708.4 L193.0,731.8 L197.0,730.1 L201.0,735.1 L205.0,729.6 L210.0,732.4 L214.0,724.9 L218.0,679.0 L222.0,709.3 L226.0,709.3 L230.0,702.4 L234.0,704.9 L238.0,707.4 L243.0,712.4 L247.0,727.4 L251.0,735.1 L255.0,719.9 L259.0,710.5 L263.0,715.5 L267.0,706.8 L271.0,701.2 L276.0,707.7 L280.0,700.5 L284.0,704.9 L288.0,691.2 L292.0,698.7 L296.0,701.2 L300.0,701.2 L305.0,693.1 L309.0,677.5 L313.0,667.2 L317.0,662.5 L321.0,668.7 L325.0,682.1 L329.0,694.0 L333.0,697.4 L338.0,697.0 L342.0,684.9 L346.0,697.0 L350.0,698.7 L354.0,683.0 L358.0,686.2 L362.0,708.6 L366.0,708.6 L371.0,715.5 L375.0,685.5 L379.0,692.4 L383.0,682.4 L387.0,673.1 L391.0,679.3 L395.0,684.3 L400.0,689.9 L404.0,688.0 L408.0,686.2 L412.0,683.4 L416.0,683.7 L420.0,686.8 L424.0,678.7 L428.0,646.2 L433.0,646.2 L437.0,640.6 L441.0,642.5 L445.0,642.5 L449.0,648.7 L453.0,649.0 L457.0,658.7 L461.0,666.2 L466.0,648.1 L470.0,646.8 L474.0,661.2 L478.0,673.9 L482.0,673.7 L486.0,669.9 L490.0,669.9 L495.0,621.8 L499.0,613.7 L503.0,581.9 L507.0,615.0 L511.0,616.2 L515.0,609.7 L519.0,623.1 L523.0,642.4 L528.0,640.9 L532.0,650.5 L536.0,633.1 L540.0,644.9 L544.0,643.0 L548.0,634.9 L552.0,625.9 L556.0,653.7 L561.0,653.9 L565.0,654.3 L569.0,653.0 L573.0,653.0 L577.0,661.1 L581.0,669.9 L585.0,696.5 L590.0,697.4 L594.0,695.7 L598.0,693.2 L602.0,695.3 L606.0,702.2 L610.0,720.9 L614.0,705.3 L618.0,694.1 L623.0,695.3 L627.0,676.6 L631.0,671.2 L635.0,679.7 L639.0,695.7 L643.0,696.5 L647.0,699.7 L651.0,703.4 L656.0,707.2 L660.0,710.9 L664.0,707.2 L668.0,706.5 L672.0,717.8 L676.0,728.6 L680.0,732.1 L685.0,700.3 L689.0,695.9 L693.0,697.2 L697.0,704.7 L701.0,701.5 L705.0,694.7 L709.0,680.7 L713.0,690.3 L718.0,701.5 L722.0,676.6 L726.0,670.0 L730.0,686.6 L734.0,684.1 L738.0,667.8 L742.0,674.9 L746.0,669.0 L751.0,650.4 L755.0,631.7 L759.0,624.8 L763.0,632.3 L767.0,631.4 L771.0,633.5 L775.0,631.7 L780.0,614.2 L784.0,608.0 L788.0,593.6 L792.0,589.8 L796.0,574.0 L800.0,579.0 L804.0,579.9 L808.0,634.8 L813.0,646.4 L817.0,642.3 L821.0,643.5 L825.0,638.5 L829.0,659.8 L833.0,663.5 L837.0,669.1 L841.0,679.9 L846.0,691.2 L850.0,701.2 L854.0,686.2 L858.0,673.7 L862.0,684.9 L866.0,678.1 L870.0,657.3 L875.0,649.8 L879.0,640.7 L883.0,650.4 L887.0,664.1 L891.0,651.4 L895.0,641.7 L899.0,665.4 L903.0,661.2 L908.0,658.7 L912.0,655.6 L916.0,669.9 L920.0,683.6 L924.0,669.9 L928.0,677.4 L932.0,651.6 L936.0,656.8 L941.0,661.8 L945.0,683.6 L949.0,674.3 L953.0,673.7 L957.0,667.4 L961.0,678.7 L965.0,676.4 L970.0,679.3 L974.0,682.4 L978.0,676.2 L982.0,669.3 L986.0,679.3 L990.0,671.4 L994.0,672.7 L998.0,656.2 L1003.0,642.4 L1007.0,643.9 L1011.0,638.7 L1015.0,628.1 L1019.0,611.9 L1023.0,602.7 L1027.0,621.2 L1031.0,636.2 L1036.0,634.7 L1040.0,623.7 L1044.0,630.0 L1048.0,648.9 L1052.0,647.2 L1056.0,655.6 L1060.0,679.9 L1065.0,683.9 L1069.0,678.7 L1073.0,697.4 L1077.0,684.3 L1081.0,686.2 L1085.0,677.4 L1089.0,680.6 L1093.0,683.4 L1098.0,661.2 L1102.0,647.5 L1106.0,653.1 L1110.0,662.7 L1114.0,660.6 L1118.0,645.2 L1122.0,670.0 L1126.0,660.2 L1131.0,667.5 L1135.0,714.9 L1139.0,718.6 L1143.0,694.9 L1147.0,688.7 L1151.0,694.9 L1155.0,700.9 L1160.0,705.9 L1164.0,708.7 L1168.0,702.4 L1172.0,695.5 L1176.0,690.2 L1180.0,694.9 L1184.0,699.3 L1188.0,692.2 L1193.0,691.4" fill="none" stroke="#7e57c2" stroke-width="3" stroke-linejoin="round" stroke-linecap="round"/>
<path d="M10.6,673.7 C11.3,673.5 13.4,672.8 15.0,672.2 C16.5,671.6 18.3,671.2 20.0,670.3 C21.6,669.5 23.3,668.0 25.0,667.0 C26.6,665.9 28.1,664.8 30.0,664.1 C31.8,663.4 34.3,662.6 36.2,662.6 C38.1,662.6 39.3,663.5 41.2,664.1 C43.1,664.7 45.4,666.0 47.4,666.3 C49.5,666.6 51.6,666.3 53.7,666.0 C55.8,665.7 57.6,664.9 59.9,664.5 C62.2,664.0 64.9,663.5 67.4,663.5 C69.9,663.5 72.6,663.7 74.9,664.5 C77.2,665.2 78.7,666.4 81.1,667.8 C83.6,669.2 87.2,670.7 89.9,672.8 C92.6,674.9 95.3,678.3 97.4,680.3 C99.5,682.3 100.7,683.4 102.4,684.7 C104.0,685.9 105.7,686.6 107.4,687.8 C109.0,689.1 110.5,690.6 112.4,692.2 C114.2,693.7 116.5,695.5 118.6,697.2 C120.7,698.8 122.8,700.6 124.8,702.2 C126.9,703.7 129.0,705.3 131.1,706.5 C133.2,707.8 135.2,708.9 137.3,709.7 C139.4,710.4 141.5,710.5 143.6,710.9 C145.7,711.3 147.7,711.9 149.8,711.9 C151.9,711.9 154.3,711.6 156.1,711.2 C157.8,710.7 158.7,709.8 160.5,709.3 C162.3,708.9 165.2,708.9 166.8,708.7 C168.4,708.5 168.7,708.6 170.0,708.2 C171.4,707.7 172.9,706.5 175.0,705.9 C177.1,705.4 180.2,705.3 182.5,704.9 C184.8,704.5 186.4,703.5 188.7,703.7 C191.0,703.9 193.9,705.2 196.2,706.2 C198.5,707.1 200.4,708.1 202.4,709.3 C204.5,710.4 206.8,712.0 208.7,713.0 C210.6,714.1 212.0,715.2 213.7,715.5 C215.3,715.8 216.6,714.9 218.7,714.9 C220.8,714.9 223.7,715.4 226.2,715.5 C228.7,715.6 231.6,715.6 233.7,715.5 C235.7,715.4 237.0,714.8 238.7,714.9 C240.3,715.0 242.0,715.6 243.6,715.9 C245.3,716.2 247.0,716.7 248.6,716.8 C250.3,716.9 252.0,716.8 253.6,716.4 C255.3,716.1 257.0,715.2 258.6,714.7 C260.3,714.1 261.5,713.7 263.6,713.0 C265.7,712.4 269.0,710.9 271.1,710.7 C273.2,710.6 274.2,712.0 276.1,712.2 C278.0,712.3 280.1,711.7 282.3,711.4 C284.6,711.1 287.3,710.9 289.8,710.5 C292.3,710.2 295.0,709.9 297.3,709.3 C299.6,708.7 301.5,708.1 303.6,706.8 C305.7,705.4 307.7,703.2 309.8,701.2 C311.9,699.2 314.2,696.5 316.1,694.9 C317.9,693.3 319.4,692.4 321.1,691.5 C322.9,690.6 325.1,690.1 326.8,689.7 C328.5,689.3 329.3,689.3 331.3,689.0 C333.3,688.7 336.4,688.3 338.7,688.0 C341.0,687.8 342.9,687.6 345.0,687.4 C347.0,687.2 349.1,687.2 351.2,686.8 C353.3,686.4 355.6,685.0 357.5,684.9 C359.3,684.8 360.8,685.4 362.4,686.2 C364.1,686.9 365.8,688.2 367.4,689.3 C369.1,690.3 370.8,691.5 372.4,692.4 C374.1,693.3 375.8,694.2 377.4,694.7 C379.1,695.1 380.8,695.4 382.4,695.3 C384.1,695.2 385.8,694.4 387.4,693.9 C389.1,693.4 390.7,692.6 392.4,692.2 C394.1,691.7 395.7,691.6 397.4,691.4 C399.1,691.2 400.7,691.3 402.4,691.2 C404.1,691.0 405.3,690.7 407.4,690.5 C409.5,690.4 412.8,690.5 414.9,690.2 C417.0,689.9 418.4,689.3 419.9,688.7 C421.3,688.0 422.2,687.4 423.6,686.2 C425.1,685.0 426.9,682.7 428.6,681.4 C430.3,680.1 431.9,679.6 433.6,678.4 C435.3,677.2 436.7,675.6 438.6,674.3 C440.5,673.0 442.8,671.8 444.8,670.6 C446.9,669.3 449.0,668.1 451.1,666.8 C453.2,665.6 455.2,664.2 457.3,663.1 C459.4,661.9 461.5,661.1 463.6,660.0 C465.7,658.8 467.7,657.2 469.8,656.2 C471.9,655.2 474.3,654.2 476.1,653.7 C477.8,653.2 479.1,653.2 480.5,653.4 C482.0,653.5 483.3,653.9 484.9,654.4 C486.5,654.9 488.5,656.3 490.0,656.5 C491.5,656.7 492.3,656.1 493.7,655.5 C495.2,654.9 497.1,654.2 498.7,653.0 C500.4,651.8 501.6,650.0 503.7,648.4 C505.8,646.8 508.5,645.5 511.2,643.7 C513.9,641.8 517.7,638.3 520.0,637.2 C522.2,636.0 523.1,637.0 524.9,636.8 C526.8,636.6 529.3,636.5 531.2,635.9 C533.1,635.3 534.3,634.1 536.2,633.1 C538.1,632.1 540.3,631.1 542.4,629.9 C544.5,628.8 546.8,626.5 548.7,626.2 C550.5,625.9 551.6,626.5 553.7,628.1 C555.7,629.6 558.6,633.4 561.1,635.5 C563.7,637.7 566.4,639.2 568.7,640.8 C571.0,642.4 572.9,643.8 574.9,645.1 C577.0,646.4 579.3,647.3 581.2,648.6 C583.1,649.9 584.7,651.8 586.2,652.9 C587.6,654.1 588.5,654.1 589.9,655.4 C591.4,656.8 593.1,659.3 594.9,661.1 C596.7,662.8 598.8,664.1 600.5,665.7 C602.3,667.4 604.0,669.0 605.5,671.0 C607.1,673.1 608.3,676.2 609.9,678.2 C611.5,680.3 613.3,682.1 614.9,683.4 C616.6,684.8 618.1,685.5 619.9,686.6 C621.8,687.6 624.1,688.9 626.2,689.7 C628.3,690.5 630.3,690.9 632.4,691.6 C634.5,692.2 636.6,693.3 638.7,693.7 C640.7,694.1 642.8,693.8 644.9,694.1 C647.0,694.3 649.1,694.6 651.1,694.9 C653.2,695.3 655.3,695.8 657.4,696.2 C659.5,696.5 661.8,697.2 663.6,697.2 C665.5,697.2 667.0,696.2 668.6,696.3 C670.3,696.4 671.7,696.8 673.6,697.8 C675.5,698.8 677.8,701.1 679.9,702.2 C681.9,703.2 684.2,703.4 686.1,704.0 C688.0,704.7 689.4,705.6 691.1,706.2 C692.8,706.7 694.4,707.1 696.1,707.4 C697.8,707.7 699.4,707.8 701.1,707.8 C702.8,707.7 704.4,707.6 706.1,707.2 C707.7,706.7 709.2,705.8 711.1,705.3 C712.9,704.8 715.2,704.8 717.3,704.0 C719.4,703.3 721.5,702.0 723.6,700.9 C725.7,699.8 727.7,699.1 729.9,697.3 C732.1,695.5 735.1,691.8 736.8,690.3 C738.5,688.8 738.7,689.1 740.0,688.4 C741.4,687.7 743.1,687.2 745.0,686.2 C746.8,685.2 748.9,684.9 751.2,682.4 C753.5,680.0 756.4,674.5 758.7,671.6 C761.0,668.8 762.9,667.3 765.0,665.4 C767.0,663.5 769.5,662.2 771.2,660.4 C772.9,658.6 773.5,656.4 774.9,654.8 C776.4,653.1 778.3,652.0 779.9,650.4 C781.6,648.8 783.3,647.6 784.9,645.4 C786.6,643.2 788.3,640.0 789.9,637.3 C791.6,634.6 793.3,632.0 794.9,629.2 C796.6,626.4 798.4,623.2 799.9,620.4 C801.5,617.7 802.9,614.2 804.3,612.7 C805.6,611.2 806.5,611.4 808.0,611.4 C809.6,611.4 811.7,612.2 813.6,612.7 C815.6,613.2 817.8,614.0 819.9,614.4 C822.0,614.9 824.0,614.8 826.1,615.4 C828.2,616.1 830.5,617.3 832.4,618.6 C834.2,619.8 835.7,621.2 837.4,622.9 C839.0,624.7 840.7,627.0 842.4,629.2 C844.0,631.4 845.7,633.1 847.4,636.0 C849.0,639.0 850.7,643.3 852.3,646.7 C854.0,650.0 855.7,653.0 857.3,656.0 C859.0,659.0 860.7,662.6 862.3,664.8 C864.0,666.9 865.5,668.0 867.3,668.9 C869.2,669.7 871.5,669.5 873.6,669.7 C875.7,670.0 877.7,669.9 879.8,670.1 C881.9,670.3 884.2,671.1 886.1,671.0 C887.9,670.9 889.7,669.9 891.1,669.5 C892.6,669.1 893.5,668.9 895.0,668.4 C896.5,668.0 898.1,667.7 900.0,666.8 C901.9,665.9 904.2,664.2 906.2,663.0 C908.3,661.9 910.4,660.3 912.5,659.7 C914.6,659.1 916.8,659.5 918.7,659.3 C920.6,659.1 921.8,658.5 923.7,658.7 C925.6,658.9 927.9,660.0 930.0,660.5 C932.0,661.1 934.1,661.4 936.2,661.8 C938.3,662.2 940.6,662.5 942.4,663.0 C944.3,663.6 945.6,664.4 947.4,665.2 C949.3,665.9 951.6,666.8 953.7,667.4 C955.8,668.0 957.8,668.3 959.9,668.9 C962.0,669.5 964.3,670.6 966.2,671.2 C968.0,671.7 969.5,672.0 971.1,672.2 C972.8,672.4 974.3,672.5 976.1,672.4 C978.0,672.3 980.3,671.7 982.4,671.8 C984.5,671.9 986.8,672.6 988.6,673.0 C990.5,673.5 992.2,674.3 993.6,674.7 C995.1,675.0 995.9,675.3 997.4,674.9 C998.8,674.5 1000.5,673.3 1002.4,672.4 C1004.2,671.5 1006.5,670.5 1008.6,669.3 C1010.7,668.0 1013.0,666.7 1014.8,664.9 C1016.7,663.2 1018.2,660.8 1019.8,658.7 C1021.5,656.6 1023.0,654.4 1024.8,652.4 C1026.7,650.5 1029.0,648.4 1031.1,646.8 C1033.2,645.3 1035.1,644.7 1037.3,643.1 C1039.5,641.4 1042.2,638.3 1044.3,636.8 C1046.4,635.4 1048.6,634.7 1049.9,634.1 C1051.2,633.5 1051.3,633.5 1052.3,633.5 C1053.3,633.4 1054.6,633.0 1056.1,633.6 C1057.6,634.2 1059.2,635.5 1061.3,636.8 C1063.4,638.2 1066.4,639.7 1068.7,641.9 C1071.0,644.0 1072.9,647.2 1075.0,650.0 C1077.0,652.8 1079.1,656.3 1081.2,658.7 C1083.3,661.1 1085.4,662.6 1087.4,664.3 C1089.5,666.1 1091.6,668.0 1093.7,669.3 C1095.8,670.6 1097.8,671.6 1099.9,672.2 C1102.0,672.8 1103.9,672.8 1106.2,673.1 C1108.5,673.4 1111.6,674.2 1113.7,673.9 C1115.7,673.7 1116.8,672.5 1118.7,671.8 C1120.5,671.2 1122.8,670.7 1124.9,670.0 C1127.0,669.2 1129.3,667.2 1131.1,667.2 C1133.0,667.2 1134.3,669.2 1136.1,670.2 C1138.0,671.2 1140.1,672.4 1142.4,673.1 C1144.7,673.8 1147.6,673.4 1149.9,674.3 C1152.2,675.3 1154.0,677.0 1156.1,678.7 C1158.2,680.4 1160.3,682.6 1162.3,684.3 C1164.4,686.0 1166.5,687.3 1168.6,688.7 C1170.7,690.0 1172.8,691.1 1174.8,692.4 C1176.9,693.8 1179.0,695.4 1181.1,696.8 C1183.2,698.1 1185.3,700.2 1187.3,700.5 C1189.3,700.8 1192.0,699.0 1192.9,698.7" fill="none" stroke="#fdd835" stroke-width="1.2" stroke-linejoin="round"/>
</g>
<text x="1298" y="106.8" font-size="12" fill="#131722" stroke="#131722" stroke-width="0.35" textLength="42" lengthAdjust="spacingAndGlyphs">0.40000</text>
<text x="1298" y="177.8" font-size="12" fill="#131722" stroke="#131722" stroke-width="0.35" textLength="42" lengthAdjust="spacingAndGlyphs">0.35000</text>
<text x="1298" y="248.8" font-size="12" fill="#131722" stroke="#131722" stroke-width="0.35" textLength="42" lengthAdjust="spacingAndGlyphs">0.30000</text>
<text x="1298" y="319.8" font-size="12" fill="#131722" stroke="#131722" stroke-width="0.35" textLength="42" lengthAdjust="spacingAndGlyphs">0.25000</text>
<text x="1298" y="461.8" font-size="12" fill="#131722" stroke="#131722" stroke-width="0.35" textLength="42" lengthAdjust="spacingAndGlyphs">0.15000</text>
<text x="1298" y="533.3" font-size="12" fill="#131722" stroke="#131722" stroke-width="0.35" textLength="42" lengthAdjust="spacingAndGlyphs">0.10000</text>
<text x="1298" y="591.8" font-size="12" fill="#131722" stroke="#131722" stroke-width="0.35" textLength="30" lengthAdjust="spacingAndGlyphs">80.00</text>
<text x="1298" y="646.8" font-size="12" fill="#131722" stroke="#131722" stroke-width="0.35" textLength="30" lengthAdjust="spacingAndGlyphs">60.00</text>
<path d="M1290,251H1344a2,2 0 0 1 2,2V266a2,2 0 0 1 -2,2H1290z" fill="#0000ff"/>
<text x="1298" y="263.8" font-size="12" fill="#ffffff" stroke="#ffffff" stroke-width="0.35" textLength="42" lengthAdjust="spacingAndGlyphs">0.29000</text>
<path d="M1241,330H1289V347H1241a2,2 0 0 1 -2,-2V332a2,2 0 0 1 2,-2z" fill="#f23645"/>
<text x="1285.5" y="342.8" font-size="12" fill="#ffffff" stroke="#ffffff" stroke-width="0.35" text-anchor="end" textLength="41.5" lengthAdjust="spacingAndGlyphs">SMA:MA</text>
<path d="M1290,330H1344a2,2 0 0 1 2,2V345a2,2 0 0 1 -2,2H1290z" fill="#f23645"/>
<text x="1298" y="342.8" font-size="12" fill="#ffffff" stroke="#ffffff" stroke-width="0.35" textLength="42" lengthAdjust="spacingAndGlyphs">0.23431</text>
<path d="M1290,351H1344a2,2 0 0 1 2,2V366a2,2 0 0 1 -2,2H1290z" fill="#0000ff"/>
<text x="1298" y="363.8" font-size="12" fill="#ffffff" stroke="#ffffff" stroke-width="0.35" textLength="42" lengthAdjust="spacingAndGlyphs">0.21000</text>
<path d="M1260,368H1289V385H1260a2,2 0 0 1 -2,-2V370a2,2 0 0 1 2,-2z" fill="#2962ff"/>
<text x="1285.5" y="380.8" font-size="12" fill="#ffffff" stroke="#ffffff" stroke-width="0.35" text-anchor="end" textLength="22.5" lengthAdjust="spacingAndGlyphs">EMA</text>
<path d="M1290,368H1344a2,2 0 0 1 2,2V383a2,2 0 0 1 -2,2H1290z" fill="#2962ff"/>
<text x="1298" y="380.8" font-size="12" fill="#ffffff" stroke="#ffffff" stroke-width="0.35" textLength="42" lengthAdjust="spacingAndGlyphs">0.20707</text>
<path d="M1290,464H1344a2,2 0 0 1 2,2V479a2,2 0 0 1 -2,2H1290z" fill="#0000ff"/>
<text x="1298" y="476.8" font-size="12" fill="#ffffff" stroke="#ffffff" stroke-width="0.35" textLength="42" lengthAdjust="spacingAndGlyphs">0.14000</text>
<path d="M1225,385H1289V402H1225a2,2 0 0 1 -2,-2V387a2,2 0 0 1 2,-2z" fill="#26a69a"/>
<text x="1284.5" y="397.8" font-size="12" fill="#ffffff" stroke="#ffffff" stroke-width="0.35" text-anchor="end" textLength="57" lengthAdjust="spacingAndGlyphs">DOGEUSDT</text>
<path d="M1290,385H1348a2,2 0 0 1 2,2V428a2,2 0 0 1 -2,2H1290z" fill="#26a69a"/>
<text x="1298" y="397.8" font-size="12" fill="#ffffff" stroke="#ffffff" stroke-width="0.35" textLength="42" lengthAdjust="spacingAndGlyphs">0.19536</text>
<text x="1298" y="411.8" font-size="12" fill="#ffffff" stroke="#ffffff" stroke-width="0.35" textLength="43" lengthAdjust="spacingAndGlyphs">−41.49%</text>
<text x="1298" y="425.8" font-size="12" fill="#ffffff" stroke="#ffffff" stroke-width="0.35" textLength="46" lengthAdjust="spacingAndGlyphs" fill-opacity="0.72">08:43:49</text>
<path d="M1266,684H1289V701H1266a2,2 0 0 1 -2,-2V686a2,2 0 0 1 2,-2z" fill="#7e57c2"/>
<text x="1285.5" y="696.8" font-size="12" fill="#ffffff" stroke="#ffffff" stroke-width="0.35" text-anchor="end" textLength="15.5" lengthAdjust="spacingAndGlyphs">RSI</text>
<path d="M1290,684H1331a2,2 0 0 1 2,2V699a2,2 0 0 1 -2,2H1290z" fill="#7e57c2"/>
<text x="1298" y="696.8" font-size="12" fill="#ffffff" stroke="#ffffff" stroke-width="0.35" textLength="30" lengthAdjust="spacingAndGlyphs">41.88</text>
<path d="M1212,701H1289V718H1212a2,2 0 0 1 -2,-2V703a2,2 0 0 1 2,-2z" fill="#fdd835"/>
<text x="1285.5" y="713.8" font-size="12" fill="#131722" stroke="#131722" stroke-width="0.35" text-anchor="end" textLength="71" lengthAdjust="spacingAndGlyphs">RSI-based MA</text>
<path d="M1290,701H1331a2,2 0 0 1 2,2V716a2,2 0 0 1 -2,2H1290z" fill="#fdd835"/>
<text x="1298" y="713.8" font-size="12" fill="#131722" stroke="#131722" stroke-width="0.35" textLength="30" lengthAdjust="spacingAndGlyphs">39.33</text>
<rect x="1293.6" y="31.6" width="58.8" height="24.8" rx="4" ry="4" fill="#ffffff" stroke="#ededed" stroke-width="1.6"/>
<text x="1302.3" y="49" font-size="12" fill="#131722" stroke="#131722" stroke-width="0.35" textLength="26.8" lengthAdjust="spacingAndGlyphs">USDT</text>
<text x="98.5" y="763" font-size="12" fill="#131722" stroke="#131722" stroke-width="0.35" text-anchor="middle">Feb</text>
<text x="214.5" y="763" font-size="12" fill="#131722" stroke="#131722" stroke-width="0.35" text-anchor="middle">Mar</text>
<text x="342.5" y="763" font-size="12" fill="#131722" stroke="#131722" stroke-width="0.35" text-anchor="middle">Apr</text>
<text x="466.5" y="763" font-size="12" fill="#131722" stroke="#131722" stroke-width="0.35" text-anchor="middle">May</text>
<text x="594.5" y="763" font-size="12" fill="#131722" stroke="#131722" stroke-width="0.35" text-anchor="middle">Jun</text>
<text x="718.5" y="763" font-size="12" fill="#131722" stroke="#131722" stroke-width="0.35" text-anchor="middle">Jul</text>
<text x="846.5" y="763" font-size="12" fill="#131722" stroke="#131722" stroke-width="0.35" text-anchor="middle">Aug</text>
<text x="974.5" y="763" font-size="12" fill="#131722" stroke="#131722" stroke-width="0.35" text-anchor="middle">Sep</text>
<text x="1098.5" y="763" font-size="12" fill="#131722" stroke="#131722" stroke-width="0.35" text-anchor="middle">Oct</text>
<text x="1226.5" y="763" font-size="12" fill="#131722" stroke="#131722" stroke-width="0.35" text-anchor="middle">Nov</text>
<text x="10" y="19" font-size="13" fill="#131722" stroke="#131722" stroke-width="0.35" textLength="361" lengthAdjust="spacingAndGlyphs">ranadagger created with TradingView.com, Oct 24, 2025 15:16 UTC</text>
<text x="18" y="46" font-size="13" fill="#131722" stroke="#131722" stroke-width="0.35" textLength="189" lengthAdjust="spacingAndGlyphs">Dogecoin / TetherUS · 1D · Binance</text>
<text x="214.5" y="46" font-size="13" fill="#131722" stroke="#131722" stroke-width="0.35" textLength="8" lengthAdjust="spacingAndGlyphs">O</text>
<text x="222.5" y="46" font-size="13" fill="#26a69a" stroke="#26a69a" stroke-width="0.35" textLength="41.5" lengthAdjust="spacingAndGlyphs">0.19492</text>
<text x="272" y="46" font-size="13" fill="#131722" stroke="#131722" stroke-width="0.35" textLength="7.5" lengthAdjust="spacingAndGlyphs">H</text>
<text x="279.5" y="46" font-size="13" fill="#26a69a" stroke="#26a69a" stroke-width="0.35" textLength="42" lengthAdjust="spacingAndGlyphs">0.20095</text>
<text x="329" y="46" font-size="13" fill="#131722" stroke="#131722" stroke-width="0.35" textLength="6" lengthAdjust="spacingAndGlyphs">L</text>
<text x="335.5" y="46" font-size="13" fill="#26a69a" stroke="#26a69a" stroke-width="0.35" textLength="41.5" lengthAdjust="spacingAndGlyphs">0.19391</text>
<text x="385" y="46" font-size="13" fill="#131722" stroke="#131722" stroke-width="0.35" textLength="7" lengthAdjust="spacingAndGlyphs">C</text>
<text x="392" y="46" font-size="13" fill="#26a69a" stroke="#26a69a" stroke-width="0.35" textLength="42" lengthAdjust="spacingAndGlyphs">0.19536</text>
<text x="441.5" y="46" font-size="13" fill="#26a69a" stroke="#26a69a" stroke-width="0.35" textLength="97.5" lengthAdjust="spacingAndGlyphs">+0.00043 (+0.22%)</text>
<text x="18" y="62.6" font-size="13" fill="#131722" stroke="#131722" stroke-width="0.35" textLength="82" lengthAdjust="spacingAndGlyphs">EMA (20, close)</text>
<text x="107.7" y="62.6" font-size="13" fill="#2962ff" stroke="#2962ff" stroke-width="0.35" textLength="42" lengthAdjust="spacingAndGlyphs">0.20707</text>
<text x="18" y="79.6" font-size="13" fill="#131722" stroke="#131722" stroke-width="0.35" textLength="81.5" lengthAdjust="spacingAndGlyphs">SMA (50, close)</text>
<text x="107.3" y="79.6" font-size="13" fill="#f23645" stroke="#f23645" stroke-width="0.35" textLength="41" lengthAdjust="spacingAndGlyphs">0.23431</text>
<text x="18" y="583.6" font-size="13" fill="#131722" stroke="#131722" stroke-width="0.35" textLength="76" lengthAdjust="spacingAndGlyphs">RSI (14, close)</text>
<text x="101.5" y="583.6" font-size="13" fill="#7e57c2" stroke="#7e57c2" stroke-width="0.35" textLength="29.5" lengthAdjust="spacingAndGlyphs">41.88</text>
<text x="138.5" y="583.6" font-size="13" fill="#fdd835" stroke="#fdd835" stroke-width="0.35" textLength="29.5" lengthAdjust="spacingAndGlyphs">39.33</text>
<g fill="#0c0c0c">
<path d="M12,795H24V810H18V801H12z"/>
<circle cx="29" cy="797.8" r="2.8"/>
<path d="M32.8,795H41.9L36.2,810H29.4z"/>
</g>
<text x="49" y="810" font-size="21" fill="#0c0c0c" stroke="#0c0c0c" stroke-width="0.5" font-weight="bold" textLength="121" lengthAdjust="spacingAndGlyphs">TradingView</text>
</svg>
</body>
</html>
